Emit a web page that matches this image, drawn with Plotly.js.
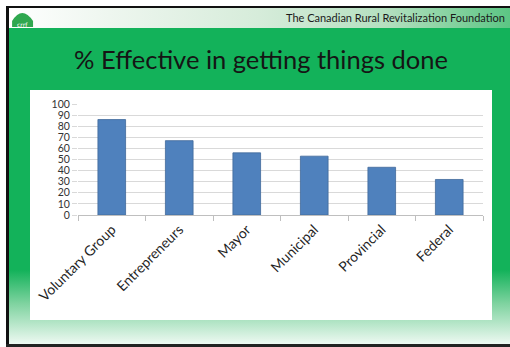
<!DOCTYPE html>
<html>
<head>
<meta charset="utf-8">
<script src="https://cdn.plot.ly/plotly-3.0.1.min.js"></script>
<style>
  html, body { margin: 0; padding: 0; background: #ffffff; }
  #wrap { position: relative; width: 510px; height: 347px; overflow: hidden; background: #ffffff; }
  .abs { position: absolute; }
  #slide { left: 9px; top: 8px; width: 501px; height: 336px;
    background: linear-gradient(to bottom, #13b25a 0%, #13b25a 78%, #7fd3a0 88%, #eef9f2 100%); }
  #header { left: 9px; top: 8px; width: 501px; height: 20px;
    background: linear-gradient(to right, #ffffff 0%, #eef6ef 20%, #d6ecda 50%, #b5e0c0 75%, #5cc684 100%); }
  #bL { left: 6px; top: 6px; width: 3px; height: 341px; background: #111; }
  #bT { left: 6px; top: 6px; width: 504px; height: 2px; background: #111; }
  #bB { left: 6px; top: 344px; width: 504px; height: 3px; background: #222; }
  #box { left: 30px; top: 90px; width: 462px; height: 230px; background: #ffffff; }
  #chart { position: absolute; left: 0; top: 0; width: 510px; height: 347px; }
</style>
</head>
<body>
<div id="wrap">
  <div id="slide" class="abs"></div>
  <div id="header" class="abs"></div>
  <div id="bL" class="abs"></div>
  <div id="bT" class="abs"></div>
  <div id="bB" class="abs"></div>
  <div id="box" class="abs"></div>
  <div id="chart"></div>
</div>
<script>
const categories = ['Voluntary Group', 'Entrepreneurs', 'Mayor', 'Municipal', 'Provincial', 'Federal'];
const values = [86, 67, 56, 53, 43, 32];
const yTicks = [0, 10, 20, 30, 40, 50, 60, 70, 80, 90, 100];

const W = 510, H = 347;
const L = 78, R = 483.5, T = 104, B = 215;
const px = x => (x - L) / (R - L);
const py = y => (B - y) / (B - T);

const trace = {
  type: 'bar',
  x: categories,
  y: values,
  marker: { color: '#4f81bd', line: { color: '#41699a', width: 0.8 } },
  hoverinfo: 'x+y'
};

// small CRRF logo (decorative)
const logoShapes = [
  { type: 'path', xref: 'paper', yref: 'paper',
    path: `M ${px(12)} ${py(21)} Q ${px(22)} ${py(5)} ${px(33)} ${py(21)} Z`,
    fillcolor: '#2fa84f', line: { width: 0 } },
  { type: 'rect', xref: 'paper', yref: 'paper',
    x0: px(12), x1: px(33), y0: py(27), y1: py(21),
    fillcolor: '#2fa84f', line: { width: 0 } }
];

const layout = {
  width: W, height: H,
  margin: { l: L, r: W - R, t: T, b: H - B, pad: 0 },
  paper_bgcolor: 'rgba(0,0,0,0)',
  plot_bgcolor: 'rgba(0,0,0,0)',
  showlegend: false,
  bargap: 0.59,
  font: { family: 'Lato, "Open Sans", sans-serif', color: '#404040' },
  title: {
    text: '% Effective in getting things done',
    font: { family: 'Lato, "Open Sans", sans-serif', size: 25.5, color: '#151515' },
    x: 261 / W, xref: 'container', xanchor: 'center',
    y: 1 - 60 / H, yref: 'container', yanchor: 'middle'
  },
  xaxis: {
    type: 'category',
    tickangle: -45,
    tickfont: { size: 14, color: '#1f1f1f' },
    showline: true, linecolor: '#bfbfbf', linewidth: 1,
    ticks: 'outside', tickson: 'boundaries', ticklen: 5, tickcolor: '#bfbfbf',
    showgrid: false, zeroline: false
  },
  yaxis: {
    range: [0, 100],
    tickvals: yTicks,
    ticktext: yTicks.map(String),
    tickfont: { size: 10.5, color: '#333333' },
    showgrid: true, gridcolor: '#d9d9d9', gridwidth: 1,
    showline: false,
    ticks: 'outside', ticklen: 5, tickcolor: '#d9d9d9',
    zeroline: false
  },
  annotations: [
    { text: 'The Canadian Rural Revitalization Foundation',
      xref: 'paper', yref: 'paper', x: px(508), y: py(18),
      xanchor: 'right', yanchor: 'middle', showarrow: false,
      font: { family: 'Lato, "Open Sans", sans-serif', size: 11, color: '#1a1a1a' } },
    { text: 'crrf', xref: 'paper', yref: 'paper', x: px(22.5), y: py(24),
      xanchor: 'center', yanchor: 'middle', showarrow: false,
      font: { family: 'DejaVu Sans', size: 6, color: '#ffffff' } }
  ],
  shapes: logoShapes
};

Plotly.newPlot('chart', [trace], layout, { displayModeBar: false, staticPlot: true });
</script>
</body>
</html>
